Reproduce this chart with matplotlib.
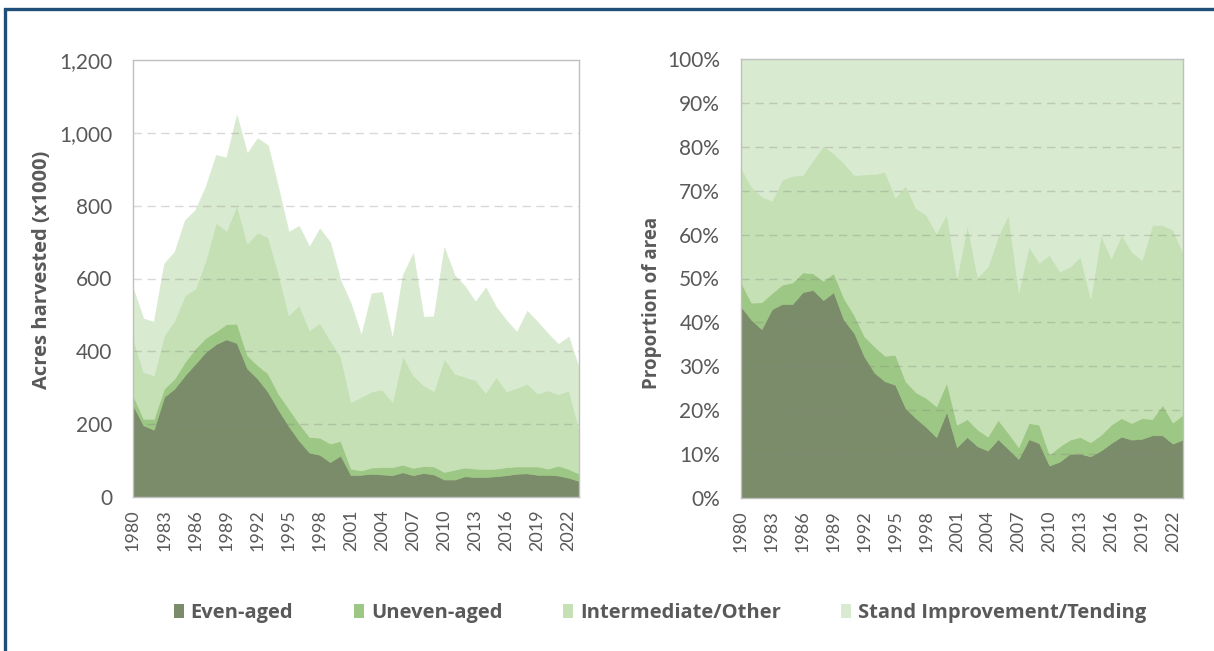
import matplotlib
matplotlib.use("Agg")
import matplotlib.pyplot as plt
from matplotlib.patches import Patch, Rectangle
from matplotlib.ticker import FuncFormatter

# ---------------- data ----------------
years = list(range(1980, 2024))
series_names = ["Even-aged", "Uneven-aged", "Intermediate/Other", "Stand Improvement/Tending"]

# Left panel: acres harvested (x1000)
even_aged = [252, 197, 185, 275, 298, 334, 366, 398, 420, 433, 423, 353, 325, 289, 240, 195,
             155, 122, 116, 96, 114, 60, 61, 64, 62, 60, 68, 60, 66, 62, 48, 48, 57, 55, 55, 57,
             60, 64, 65, 61, 61, 59, 53, 44]
uneven_aged = [27, 18, 30, 23, 27, 37, 42, 39, 35, 42, 53, 36, 37, 50, 44, 48, 47, 43, 47, 51,
               40, 18, 12, 17, 20, 22, 21, 20, 19, 22, 21, 27, 24, 23, 22, 21, 22, 20, 19, 23,
               17, 27, 24, 20]
intermediate = [156, 128, 119, 146, 160, 183, 164, 213, 298, 256, 325, 307, 364, 375, 330, 256,
                325, 293, 315, 283, 231, 183, 202, 209, 213, 179, 298, 254, 222, 207, 311, 264,
                249, 243, 209, 252, 208, 216, 227, 200, 215, 196, 216, 121]
stand_improvement = [137, 147, 147, 197, 188, 206, 216, 202, 186, 201, 248, 247, 259, 252, 236,
                     229, 217, 229, 259, 270, 210, 270, 169, 269, 268, 174, 222, 335, 188, 205,
                     305, 270, 249, 215, 289, 192, 195, 153, 200, 197, 156, 138, 147, 168]

# Right panel: proportion of area (%)
even_pct = [43.6, 40.6, 38.5, 43.0, 44.2, 44.2, 46.9, 47.4, 45.1, 46.9, 40.6, 37.6, 32.2, 28.5,
            26.6, 25.8, 20.5, 18.2, 16.2, 13.9, 19.7, 11.6, 13.9, 11.8, 10.8, 13.4, 11.2, 8.9,
            13.4, 12.5, 7.4, 8.3, 10.1, 10.1, 9.5, 10.8, 12.5, 14.0, 13.3, 13.5, 14.3, 14.3,
            12.4, 13.3]
uneven_pct = [5.5, 3.9, 6.1, 3.7, 4.4, 4.9, 4.5, 3.8, 4.4, 4.3, 4.9, 4.1, 4.6, 6.0, 5.8, 6.8,
              6.1, 5.9, 6.6, 7.0, 6.6, 5.1, 4.1, 3.8, 3.2, 4.4, 3.6, 2.7, 3.7, 4.2, 2.5, 3.5,
              3.2, 3.8, 3.2, 3.6, 4.2, 4.2, 3.8, 4.7, 3.7, 6.9, 4.8, 5.7]
intermediate_pct = [26.0, 26.4, 24.1, 21.0, 23.9, 24.3, 22.2, 25.8, 30.7, 27.3, 30.8, 31.9,
                    36.9, 39.3, 41.9, 35.9, 44.6, 41.9, 41.7, 39.4, 38.4, 33.4, 44.2, 34.7,
                    38.7, 41.8, 49.7, 35.4, 40.2, 36.9, 45.5, 39.8, 39.4, 41.1, 32.8, 45.5,
                    37.9, 41.7, 39.0, 36.0, 44.2, 41.0, 43.9, 36.8]
stand_pct = [24.9, 29.1, 31.3, 32.3, 27.5, 26.6, 26.4, 23.0, 19.8, 21.5, 23.7, 26.4, 26.3, 26.2,
             25.7, 31.5, 28.8, 34.0, 35.5, 39.7, 35.3, 49.9, 37.8, 49.7, 47.3, 40.4, 35.5, 53.0,
             42.7, 46.4, 44.6, 48.4, 47.3, 45.0, 54.5, 40.1, 45.4, 40.1, 43.9, 45.8, 37.8, 37.8,
             38.9, 44.2]

left_yticks = [0, 200, 400, 600, 800, 1000, 1200]
right_yticks = [0, 10, 20, 30, 40, 50, 60, 70, 80, 90, 100]
xtick_years = list(range(1980, 2023, 3))

colors = ["#7b8c6a", "#9dc784", "#c5e0b4", "#d8eacf"]

# ---------------- figure ----------------
W, H = 1214, 651
fig = plt.figure(figsize=(W / 100, H / 100), dpi=100)
fig.patch.set_facecolor("white")

tick_font = "Lato"
title_font = "Open Sans"

ax1 = fig.add_axes([133 / W, 1 - 497 / H, 446 / W, 437 / H])
ax2 = fig.add_axes([741 / W, 1 - 498 / H, 442 / W, 439 / H])


def style_axis(ax, yticks, ymax, fmt):
    ax.set_xlim(years[0], years[-1])
    ax.set_ylim(0, ymax)
    ax.set_yticks(yticks)
    ax.set_xticks(xtick_years)
    ax.set_xticklabels([str(y) for y in xtick_years], rotation=90,
                       fontfamily=tick_font, fontsize=13, color="#595959")
    ax.yaxis.set_major_formatter(FuncFormatter(fmt))
    for lab in ax.get_yticklabels():
        lab.set_fontfamily(tick_font)
        lab.set_fontsize(15)
        lab.set_color("#595959")
    ax.tick_params(axis="both", length=0)
    ax.tick_params(axis="y", pad=15)
    ax.tick_params(axis="x", pad=9)
    for sp in ax.spines.values():
        sp.set_color("#bfbfbf")
        sp.set_linewidth(1.0)
        sp.set_zorder(5)
    for yv in yticks[1:-1]:
        ax.axhline(yv, color="#7f7f7f", alpha=0.3, lw=1.0, dashes=(6, 4), zorder=3)


polys1 = ax1.stackplot(years, even_aged, uneven_aged, intermediate, stand_improvement,
                       colors=colors, zorder=2)
polys2 = ax2.stackplot(years, even_pct, uneven_pct, intermediate_pct, stand_pct,
                       colors=colors, zorder=2)
for polys in (polys1, polys2):
    for p, c in zip(polys, colors):
        p.set_edgecolor(c)
        p.set_linewidth(0.5)

style_axis(ax1, left_yticks, 1200, lambda v, pos: f"{int(v):,}")
style_axis(ax2, right_yticks, 100, lambda v, pos: f"{int(v)}%")

fig.text(42 / W, 1 - 270 / H, "Acres harvested (x1000)", rotation=90, ha="center", va="center",
         fontfamily=title_font, fontweight="bold", fontsize=14.5, color="#595959")
fig.text(652 / W, 1 - 303 / H, "Proportion of area", rotation=90, ha="center", va="center",
         fontfamily=title_font, fontweight="bold", fontsize=13.5, color="#595959")

handles = [Patch(facecolor=c, edgecolor="none") for c in colors]
leg = fig.legend(handles, series_names, loc="center", bbox_to_anchor=(660 / W, 1 - 613 / H),
                 ncol=4, frameon=False, handlelength=0.5, handleheight=0.75,
                 handletextpad=0.35, columnspacing=3.0,
                 prop={"family": title_font, "weight": "bold", "size": 14.5})
for t in leg.get_texts():
    t.set_color("#595959")

fig.patches.append(Rectangle((5 / W, -0.1), 1.2, (1 - 9 / H) + 0.1, transform=fig.transFigure,
                             fill=False, edgecolor="#1f4e79", linewidth=2.4, zorder=10))

fig.savefig("out.png", dpi=100)
